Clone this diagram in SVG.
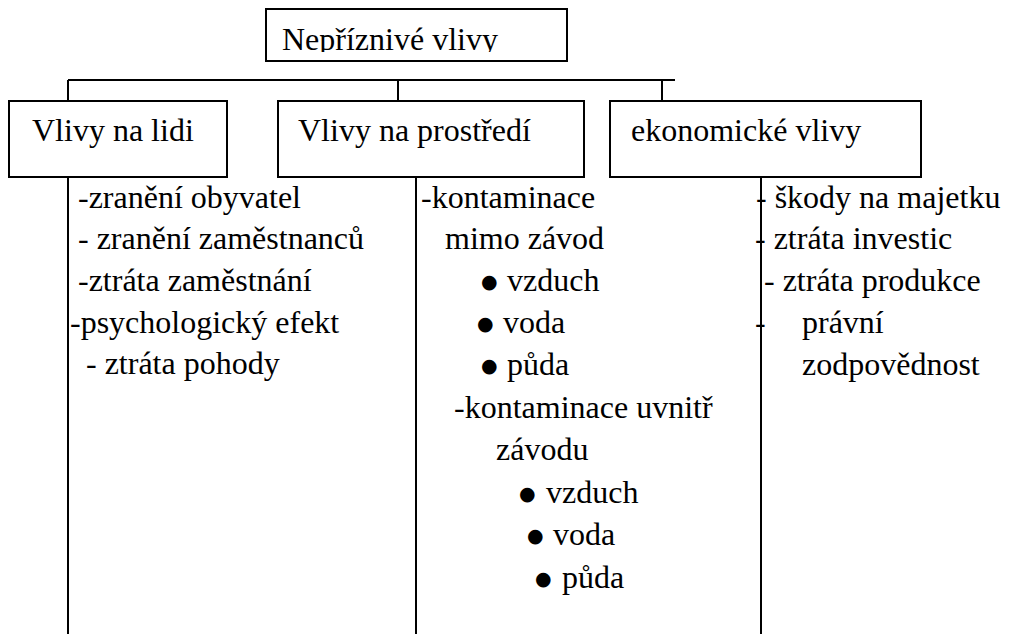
<svg xmlns="http://www.w3.org/2000/svg" width="1012" height="634" viewBox="0 0 1012 634">
<style>
.box{fill:#fff;stroke:#000;stroke-width:2}
.ln{stroke:#000;stroke-width:2;fill:none}
</style>
<defs>
<clipPath id="clipTop"><rect x="266" y="9" width="301" height="43"/></clipPath>
</defs>
<rect width="1012" height="634" fill="#fff"/>
<g id="connectors">
<path class="ln" d="M68 80H675M68 80V101M398 80V101M662 80V101"/>
<path class="ln" d="M68 177V634M416 177V634M761 177V634"/>
</g>
<g font-family="Liberation Serif, Times New Roman, serif" font-size="32" fill="#000">
<g id="node-root">
<rect class="box" x="266" y="9" width="301" height="52"/>
<text x="282" y="50" clip-path="url(#clipTop)">Nepříznivé vlivy</text>
</g>
<g id="node-lidi">
<rect class="box" x="9" y="101" width="218" height="76"/>
<text x="32" y="141">Vlivy na lidi</text>
</g>
<g id="node-prostredi">
<rect class="box" x="278" y="101" width="306" height="76"/>
<text x="298" y="141">Vlivy na prostředí</text>
</g>
<g id="node-ekonomicke">
<rect class="box" x="610" y="101" width="311" height="76"/>
<text x="631" y="141">ekonomické vlivy</text>
</g>
<g id="list-lidi">
<text x="78" y="208">-zranění obyvatel</text>
<text x="78" y="249">- zranění zaměstnanců</text>
<text x="78" y="291">-ztráta zaměstnání</text>
<text x="70" y="333">-psychologický efekt</text>
<text x="86" y="374">- ztráta pohody</text>
</g>
<g id="list-prostredi">
<text x="421" y="208">-kontaminace</text>
<text x="445" y="249">mimo závod</text>
<text y="291"><tspan font-family="DejaVu Sans, sans-serif" font-size="19" x="481" dy="-3">●</tspan><tspan x="507" dy="3">vzduch</tspan></text>
<text y="333"><tspan font-family="DejaVu Sans, sans-serif" font-size="19" x="477" dy="-3">●</tspan><tspan x="503" dy="3">voda</tspan></text>
<text y="375"><tspan font-family="DejaVu Sans, sans-serif" font-size="19" x="481" dy="-3">●</tspan><tspan x="507" dy="3">půda</tspan></text>
<text x="454" y="418">-kontaminace uvnitř</text>
<text x="496" y="460">závodu</text>
<text y="503"><tspan font-family="DejaVu Sans, sans-serif" font-size="19" x="519" dy="-3">●</tspan><tspan x="546" dy="3">vzduch</tspan></text>
<text y="545"><tspan font-family="DejaVu Sans, sans-serif" font-size="19" x="527" dy="-3">●</tspan><tspan x="553" dy="3">voda</tspan></text>
<text y="588"><tspan font-family="DejaVu Sans, sans-serif" font-size="19" x="535" dy="-3">●</tspan><tspan x="562" dy="3">půda</tspan></text>
</g>
<g id="list-ekonomicke">
<text x="756" y="208">- škody na majetku</text>
<text x="755" y="249">- ztráta investic</text>
<text x="764" y="291">- ztráta produkce</text>
<text x="755" y="333">-<tspan x="802">právní</tspan></text>
<text x="802" y="375">zodpovědnost</text>
</g>
</g>
</svg>
